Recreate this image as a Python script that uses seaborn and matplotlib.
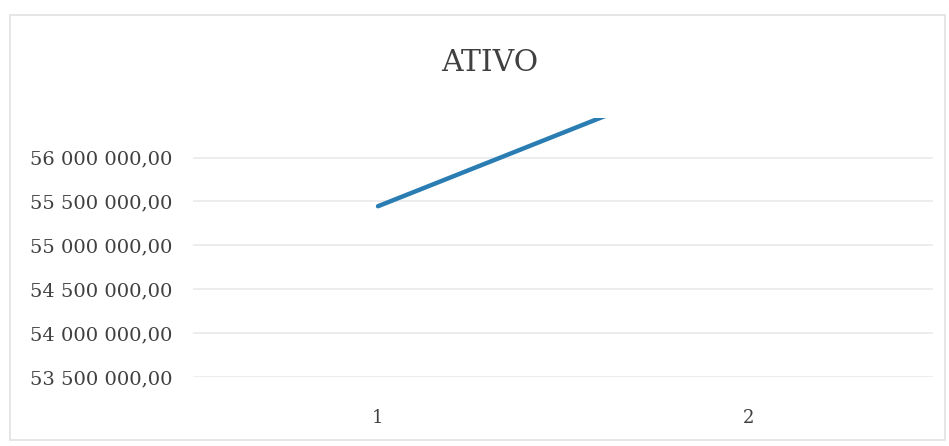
import matplotlib
matplotlib.use("Agg")
import matplotlib.pyplot as plt
import matplotlib.ticker as mticker
from matplotlib.patches import Rectangle
import seaborn as sns
import pandas as pd

# Series data
categories = ["1", "2"]
ativo = [55_445_000, 57_120_000]
y_ticks = [53_500_000, 54_000_000, 54_500_000, 55_000_000, 55_500_000, 56_000_000]
title = "ATIVO"

df = pd.DataFrame({"periodo": categories, "ativo": ativo})

sns.set_theme(style="white")
plt.rcParams["font.family"] = ["DejaVu Serif"]

fig = plt.figure(figsize=(9.49, 4.46), dpi=100)
ax = fig.add_axes([193 / 949, 1 - 377 / 446, (933 - 193) / 949, (377 - 118) / 446])

sns.lineplot(data=df, x="periodo", y="ativo", ax=ax, color="#2a7db3",
             linewidth=3.2, solid_capstyle="round", sort=False)

ax.set_xlim(-0.5, 1.5)
ax.set_ylim(53_500_000, 56_450_000)
ax.set_yticks(y_ticks)


def fmt_pt(v, _pos):
    s = f"{v:,.2f}"
    return s.replace(",", " ").replace(".", ",")


ax.yaxis.set_major_formatter(mticker.FuncFormatter(fmt_pt))
ax.grid(axis="y", color="#ededed", linewidth=1.4)
ax.grid(axis="x", visible=False)
for s in ax.spines.values():
    s.set_visible(False)
ax.tick_params(axis="y", length=0, pad=15, labelsize=14, labelcolor="#404040")
ax.tick_params(axis="x", length=0, pad=23, labelsize=13, labelcolor="#404040")
ax.set_xlabel("")
ax.set_ylabel("")

fig.text(490 / 949, 1 - 63 / 446, title, ha="center", va="center",
         fontsize=21.5, color="#404040")

# Chart frame
fig.patches.append(Rectangle((10 / 949, 1 - 440 / 446), 935 / 949, 425 / 446,
                             transform=fig.transFigure, fill=False,
                             edgecolor="#e2e2e2", linewidth=1.2))

fig.savefig("out.png", dpi=100)
